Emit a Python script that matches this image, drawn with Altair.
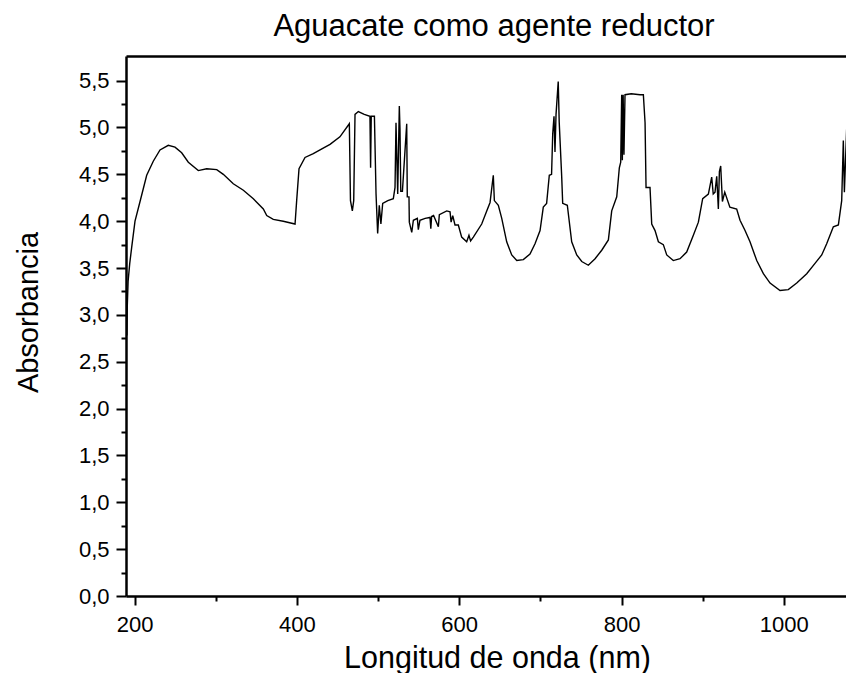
import altair as alt
import pandas as pd

# Wavelength (nm)
wavelength = [
    190.5, 191.0, 192.0, 194.0, 196.4, 200.5, 206.7, 214.9, 223.0, 231.3,
    241.5, 249.8, 258.0, 266.2, 278.5, 288.8, 301.2, 309.3, 321.6, 334.0,
    346.3, 358.6, 362.8, 370.9, 383.2, 397.7, 399.7, 402.6, 410.0, 420.2,
    428.5, 440.8, 453.0, 464.6, 466.0, 468.3, 470.0, 471.6, 475.7, 483.0,
    490.0, 490.8, 491.6, 495.5, 497.5, 499.5, 501.5, 503.5, 505.7, 512.0,
    518.8, 520.9, 522.1, 524.2, 526.2, 527.0, 528.0, 530.0, 535.3, 536.0,
    538.1, 538.5, 541.5, 543.5, 548.4, 549.6, 551.6, 558.0, 564.0, 565.0,
    566.0, 568.4, 574.3, 575.5, 584.6, 588.7, 590.0, 592.0, 594.8, 598.9,
    603.0, 609.2, 612.0, 614.0, 617.4, 627.7, 633.9, 638.0, 642.0, 643.3,
    648.2, 652.4, 658.5, 664.7, 670.9, 679.0, 687.2, 693.4, 699.6, 703.6,
    707.7, 711.0, 713.8, 715.2, 716.8, 718.0, 719.3, 722.0, 723.2, 726.3,
    727.5, 733.2, 738.6, 744.8, 751.0, 759.1, 767.4, 775.6, 783.8, 787.9,
    794.1, 797.3, 799.0, 800.2, 801.0, 802.0, 803.0, 804.3, 812.0, 822.8,
    826.9, 829.0, 830.2, 835.1, 837.2, 841.3, 845.4, 851.5, 855.7, 863.8,
    872.1, 880.3, 888.5, 894.7, 900.0, 907.0, 911.1, 913.0, 915.2, 917.3,
    919.3, 920.6, 922.2, 924.3, 927.2, 933.5, 941.9, 946.0, 952.2, 958.3,
    966.6, 974.8, 983.0, 995.3, 1005.5, 1015.9, 1028.2, 1038.4, 1046.7, 1052.8,
    1061.0, 1067.2, 1071.3, 1073.3, 1074.6, 1077.4, 1079.4, 1081.5, 1083.5, 1085.6,
]

# Absorbance
absorbance = [
    2.78, 3.10, 3.36, 3.55, 3.72, 4.00, 4.21, 4.49, 4.64, 4.76,
    4.81, 4.79, 4.73, 4.63, 4.54, 4.56, 4.55, 4.50, 4.40, 4.33,
    4.24, 4.13, 4.06, 4.02, 4.00, 3.97, 4.22, 4.56, 4.68, 4.72,
    4.76, 4.82, 4.90, 5.04, 4.22, 4.11, 4.22, 5.14, 5.17, 5.14,
    5.12, 4.57, 5.12, 5.12, 4.29, 3.87, 4.17, 3.97, 4.19, 4.22,
    4.24, 4.36, 5.05, 4.29, 5.23, 4.99, 4.32, 4.32, 5.04, 4.26,
    4.26, 3.99, 3.88, 4.01, 4.03, 3.91, 4.01, 4.03, 4.04, 3.92,
    4.05, 4.06, 3.94, 4.07, 4.11, 4.10, 3.99, 4.06, 3.96, 3.96,
    3.83, 3.78, 3.85, 3.79, 3.83, 3.97, 4.11, 4.20, 4.49, 4.22,
    4.17, 4.03, 3.78, 3.64, 3.58, 3.59, 3.65, 3.76, 3.90, 4.15,
    4.19, 4.49, 4.50, 4.93, 5.12, 4.74, 5.14, 5.49, 5.06, 4.47,
    4.19, 4.17, 3.78, 3.64, 3.57, 3.53, 3.60, 3.69, 3.80, 4.11,
    4.26, 4.57, 4.63, 5.35, 4.65, 5.35, 4.71, 5.35, 5.36, 5.35,
    5.35, 5.05, 4.36, 4.36, 3.97, 3.90, 3.78, 3.75, 3.64, 3.58,
    3.60, 3.67, 3.85, 3.99, 4.24, 4.29, 4.47, 4.29, 4.31, 4.48,
    4.13, 4.53, 4.59, 4.21, 4.31, 4.15, 4.13, 4.01, 3.90, 3.78,
    3.58, 3.44, 3.34, 3.26, 3.27, 3.34, 3.44, 3.55, 3.64, 3.76,
    3.94, 3.96, 4.22, 4.86, 4.31, 4.98, 4.25, 4.76, 4.08, 4.73,
]

x_major = [200, 400, 600, 800, 1000]
x_minor = [300, 500, 700, 900]
y_major = [0.0, 0.5, 1.0, 1.5, 2.0, 2.5, 3.0, 3.5, 4.0, 4.5, 5.0, 5.5]
y_minor = [0.25, 0.75, 1.25, 1.75, 2.25, 2.75, 3.25, 3.75, 4.25, 4.75, 5.25]

df = pd.DataFrame({"wl": wavelength, "ab": absorbance})

FONT = "Liberation Sans"
xscale = alt.Scale(domain=[189.4, 1076.6], nice=False, zero=False)
yscale = alt.Scale(domain=[0, 5.763], nice=False, zero=False)
comma = "replace(format(datum.value, '.1f'), '.', ',')"

base = alt.Chart(df)

main = base.mark_line(color="black", strokeWidth=1.4, clip=True).encode(
    x=alt.X("wl:Q", scale=xscale, axis=alt.Axis(
        orient="bottom", values=x_major, format="d", grid=False,
        tickSize=9, tickWidth=2, tickColor="black",
        domainWidth=2.5, domainColor="black",
        labelFont=FONT, labelFontSize=22, labelColor="black", labelPadding=9,
        labelFlush=False, labelOverlap=False,
        title="Longitud de onda (nm)", titleFont=FONT, titleFontSize=30.5,
        titleFontWeight="normal", titleColor="black",
        titleX=371, titleY=71, titleBaseline="alphabetic", titleAlign="center")),
    y=alt.Y("ab:Q", scale=yscale, axis=alt.Axis(
        orient="left", values=y_major, labelExpr=comma, grid=False,
        tickSize=10, tickWidth=2, tickColor="black",
        domainWidth=2.5, domainColor="black",
        labelFont=FONT, labelFontSize=22, labelColor="black", labelPadding=7,
        labelFlush=False, labelOverlap=False,
        title="Absorbancia", titleFont=FONT, titleFontSize=29,
        titleFontWeight="normal", titleColor="black",
        titleAngle=270, titleX=-89, titleY=256, titleBaseline="alphabetic",
        titleAlign="center")),
)

minor = base.mark_line(opacity=0).encode(
    x=alt.X("wl:Q", scale=xscale, axis=alt.Axis(
        orient="bottom", values=x_minor, labels=False, domain=False, grid=False,
        tickSize=5, tickWidth=2, tickColor="black", title=None)),
    y=alt.Y("ab:Q", scale=yscale, axis=alt.Axis(
        orient="left", values=y_minor, labels=False, domain=False, grid=False,
        tickSize=5, tickWidth=2, tickColor="black", title=None)),
)

top = base.mark_line(opacity=0).encode(
    x=alt.X("wl:Q", scale=xscale, axis=alt.Axis(
        orient="top", labels=False, ticks=False, grid=False,
        domainWidth=2.5, domainColor="black", title=None)),
    y=alt.Y("ab:Q", scale=yscale, axis=None),
)

chart = alt.layer(main, minor, top).resolve_axis(
    x="independent", y="independent"
).properties(
    width=720, height=540,
    padding={"left": 118, "top": 48, "right": 0, "bottom": 77},
    autosize=alt.AutoSizeParams(type="none"),
    title=alt.TitleParams(
        "Aguacate como agente reductor", font=FONT, fontSize=31,
        fontWeight="normal", color="black", anchor="middle", frame="group",
        baseline="alphabetic", offset=21, dx=8, dy=32),
    background="white",
).configure_view(strokeWidth=0)

chart.save("out.html", embed_options={"renderer": "svg", "actions": False})
